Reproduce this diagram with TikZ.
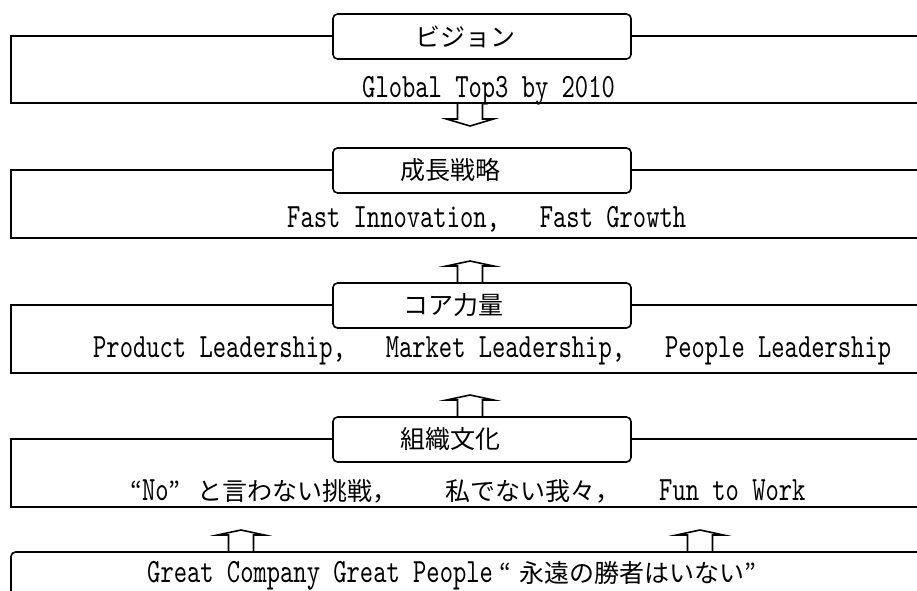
\documentclass[tikz,border=0pt]{standalone}
\usepackage{fontspec}
\newfontfamily\jpfont{Noto Sans CJK JP}
\newfontfamily\enfont{lmmono10-regular.otf}[FakeStretch=0.745]
\newcommand{\jptxt}[1]{{\jpfont\fontsize{25}{28}\selectfont#1}}
\begin{document}
\begin{tikzpicture}[x=1pt,y=-1pt,
  frame/.style={line width=1.6pt},
  titlebox/.style={draw, fill=white, line width=1.6pt, rounded corners=4.5pt,
    minimum width=298pt, minimum height=45pt, inner sep=0pt},
  titletext/.style={anchor=west, inner sep=0pt, font=\jpfont\fontsize{25}{28}\selectfont},
  bodytext/.style={anchor=base west, inner sep=0pt, font=\enfont\fontsize{34}{36}\selectfont},
  blockarrow/.style={draw, fill=white, line width=1.6pt, line join=miter},
  uparrow/.pic={\path[blockarrow] (-12.5,0) -- (-12.5,-17) -- (-23.5,-17) -- (0,-22)
    -- (23.5,-17) -- (12.5,-17) -- (12.5,0);},
  downarrow/.pic={\path[blockarrow] (-12.5,0) -- (-12.5,16) -- (-23.5,16) -- (0,23)
    -- (23.5,16) -- (12.5,16) -- (12.5,0);}]
\frenchspacing
\useasboundingbox (0,0) rectangle (917,590);
\clip (0,0) rectangle (917,590);

% block arrows between the layers
\pic (visiondown) at (470,103) {downarrow};
\pic (coreup) at (470,283) {uparrow};
\pic (cultureup) at (470,417) {uparrow};
\pic (baseleftup) at (241,552) {uparrow};
\pic (baserightup) at (700,552) {uparrow};

% layer frames, open to the right
\foreach \t/\b in {36/103,170/238,305/373,439/507}{
  \draw[frame] (930,\t) -- (11,\t) -- (11,\b) -- (930,\b);
}
\draw[frame, rounded corners=4.5pt] (930,552) -- (11,552) -- (11,600);

% layer headings
\node[titlebox] (vbox) at (482,36.5) {};
\node[titletext] (vlabel) at (415,36.5) {ビジョン};
\node[titlebox] (sbox) at (482,170.5) {};
\node[titletext] (slabel) at (400,170.5) {成長戦略};
\node[titlebox] (cbox) at (482,305.5) {};
\node[titletext] (clabel) at (403,305.5) {コア力量};
\node[titlebox] (obox) at (482,439.5) {};
\node[titletext] (olabel) at (400,439.5) {組織文化};

% layer contents
\node[bodytext] (vtext) at (362,97) {Global Top3 by 2010};
\node[bodytext] (stext) at (287,227) {Fast Innovation,\ \ \ Fast Growth};
\node[bodytext] (ctext) at (93,357) {Product Leadership,\ \ \ Market Leadership,\ \ \ People Leadership};
\node[bodytext] (otext) at (130,500) {\makebox[67pt][l]{\jptxt{“}No\jptxt{”}}\makebox[248pt][l]{\jptxt{と言わない挑戦，}}\makebox[214pt][l]{\jptxt{私でない我々，}}Fun to Work};
\node[bodytext] (btext) at (147,582) {Great Company Great People\makebox[27pt][l]{\hspace{7pt}\jptxt{“}}\jptxt{永遠の勝者はいない”}};
\end{tikzpicture}
\end{document}
